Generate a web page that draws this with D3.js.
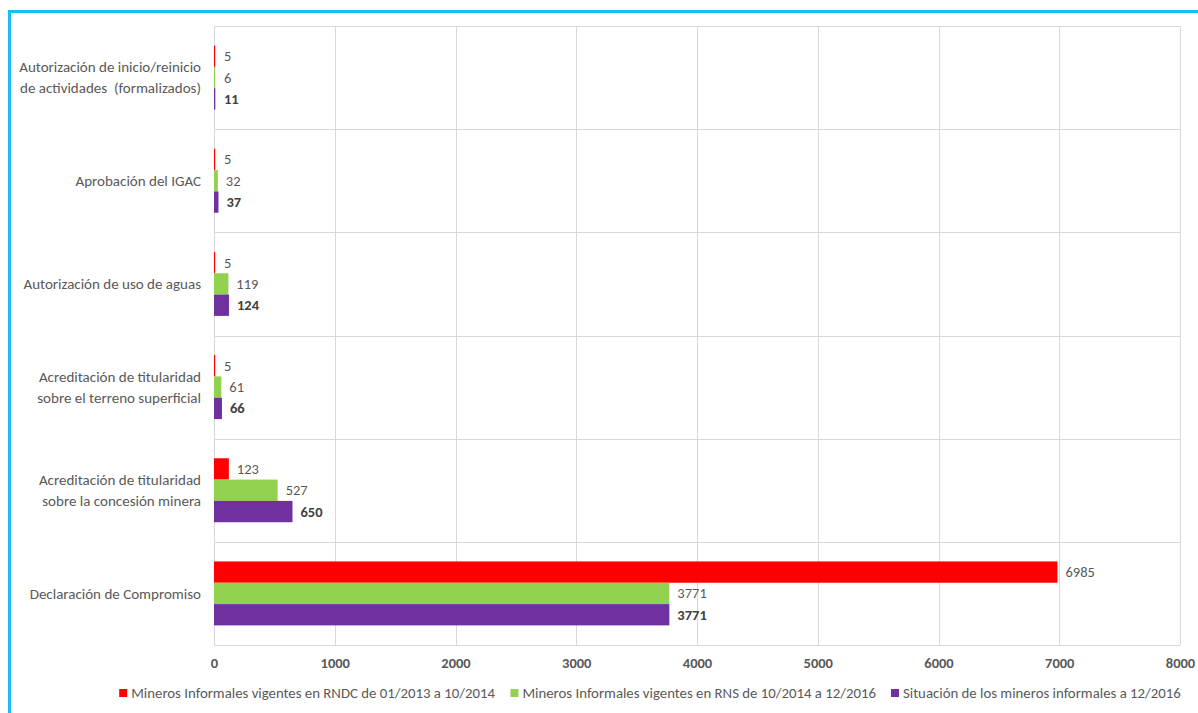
<!DOCTYPE html>
<html>
<head>
<meta charset="utf-8">
<script src="https://cdn.jsdelivr.net/npm/d3@7"></script>
<style>
  html, body { margin: 0; padding: 0; background: #fff; }
  #chart { width: 1198px; height: 713px; overflow: hidden; }
  text { font-family: Carlito, Lato, "Open Sans", sans-serif; }
</style>
</head>
<body>
<div id="chart"></div>
<script>
(() => {
  "use strict";

  // categories, top to bottom; two-line labels split by "|"
  const categories = [
    "Autorización de inicio/reinicio|de actividades  (formalizados)",
    "Aprobación del IGAC",
    "Autorización de uso de aguas",
    "Acreditación de titularidad|sobre el terreno superficial",
    "Acreditación de titularidad|sobre la concesión minera",
    "Declaración de Compromiso"
  ];
  const seriesNames = [
    "Mineros Informales vigentes en RNDC de 01/2013 a 10/2014",
    "Mineros Informales vigentes en RNS de 10/2014 a 12/2016",
    "Situación de los mineros informales a 12/2016"
  ];
  const rndc = [5, 5, 5, 5, 123, 6985];
  const rns = [6, 32, 119, 61, 527, 3771];
  const situacion = [11, 37, 124, 66, 650, 3771];
  const xTicks = [0, 1000, 2000, 3000, 4000, 5000, 6000, 7000, 8000];

  const COLORS = ["#FF0000", "#92D050", "#7030A0"];
  const values = [rndc, rns, situacion];

  const width = 1198, height = 713;
  const margin = {top: 26, left: 214};
  const innerW = 1180 - margin.left;
  const innerH = 645 - margin.top;

  const svg = d3.select("#chart").append("svg").attr("width", width).attr("height", height);

  // light blue frame
  svg.append("path")
    .attr("d", `M9.5,${height + 5} V11.5 H${width + 5}`)
    .attr("fill", "none").attr("stroke", "#1CBBF4").attr("stroke-width", 3);

  const g = svg.append("g").attr("transform", `translate(${margin.left},${margin.top})`);

  const x = d3.scaleLinear().domain([0, 8000]).range([0, innerW]);
  const y0 = d3.scaleBand().domain(d3.range(categories.length)).range([0, innerH]).padding(0);
  const step = y0.step();
  const y1 = d3.scaleBand().domain([0, 1, 2]).range([step * 0.19, step * 0.81]).padding(0);

  // grid
  g.append("g").selectAll("line.v").data(xTicks).join("line")
    .attr("x1", d => Math.round(x(d)) + 0.5).attr("x2", d => Math.round(x(d)) + 0.5)
    .attr("y1", 0).attr("y2", innerH)
    .attr("stroke", "#D9D9D9").attr("stroke-width", 1);
  g.append("g").selectAll("line.h").data(d3.range(categories.length + 1)).join("line")
    .attr("x1", 0).attr("x2", innerW)
    .attr("y1", d => Math.round(d * step) + 0.5).attr("y2", d => Math.round(d * step) + 0.5)
    .attr("stroke", "#D9D9D9").attr("stroke-width", 1);

  // bars
  const groups = g.append("g").selectAll("g.cat").data(categories).join("g")
    .attr("transform", (d, i) => `translate(0,${y0(i)})`);

  groups.each(function(c, ci) {
    const gg = d3.select(this);
    values.forEach((arr, si) => {
      const v = arr[ci];
      gg.append("rect")
        .attr("x", x(0)).attr("y", y1(si))
        .attr("width", Math.max(1.2, x(v) - x(0)))
        .attr("height", y1.bandwidth())
        .attr("fill", COLORS[si]);
      gg.append("text")
        .attr("x", Math.max(x(v), 2) + 8)
        .attr("y", y1(si) + y1.bandwidth() / 2)
        .attr("dy", "0.35em")
        .attr("font-size", 14.5)
        .attr("font-weight", si === 2 ? "bold" : "normal")
        .attr("fill", si === 2 ? "#404040" : "#595959")
        .text(v);
    });
  });

  // category labels
  const catG = g.append("g");
  categories.forEach((c, i) => {
    const lines = c.split("|");
    const cy = y0(i) + step / 2;
    const t = catG.append("text")
      .attr("x", -13).attr("text-anchor", "end")
      .attr("font-size", 15).attr("fill", "#595959");
    lines.forEach((ln, li) => {
      t.append("tspan").attr("x", -13)
        .attr("y", cy + (li - (lines.length - 1) / 2) * 21)
        .attr("dy", "0.35em")
        .attr("xml:space", "preserve")
        .text(ln);
    });
  });

  // x axis labels
  const xAxis = d3.axisBottom(x).tickValues(xTicks).tickSize(0).tickPadding(0).tickFormat(d3.format("d"));
  const ax = g.append("g").attr("transform", `translate(0,${innerH})`).call(xAxis);
  ax.select(".domain").remove();
  ax.selectAll("text")
    .attr("y", 18).attr("dy", "0.35em")
    .attr("font-size", 14.5).attr("font-weight", "bold")
    .attr("fill", "#595959")
    .style("font-family", "Carlito, Lato, 'Open Sans', sans-serif");

  // legend
  const leg = svg.append("g");
  const items = leg.selectAll("g.item").data(seriesNames).join("g");
  items.append("rect").attr("width", 8).attr("height", 8).attr("y", -4)
    .attr("fill", (d, i) => COLORS[i]);
  items.append("text").attr("x", 12).attr("dy", "0.35em")
    .attr("font-size", 14.8).attr("fill", "#595959").text(d => d);
  let cx = 0;
  const widths = [];
  items.each(function() { widths.push(this.getBBox().width); });
  const gap = 15;
  const total = d3.sum(widths) + gap * (widths.length - 1);
  const startX = 650 - total / 2;
  items.attr("transform", (d, i) => {
    const tx = startX + cx;
    cx += widths[i] + gap;
    return `translate(${tx},693)`;
  });
})();
</script>
</body>
</html>
